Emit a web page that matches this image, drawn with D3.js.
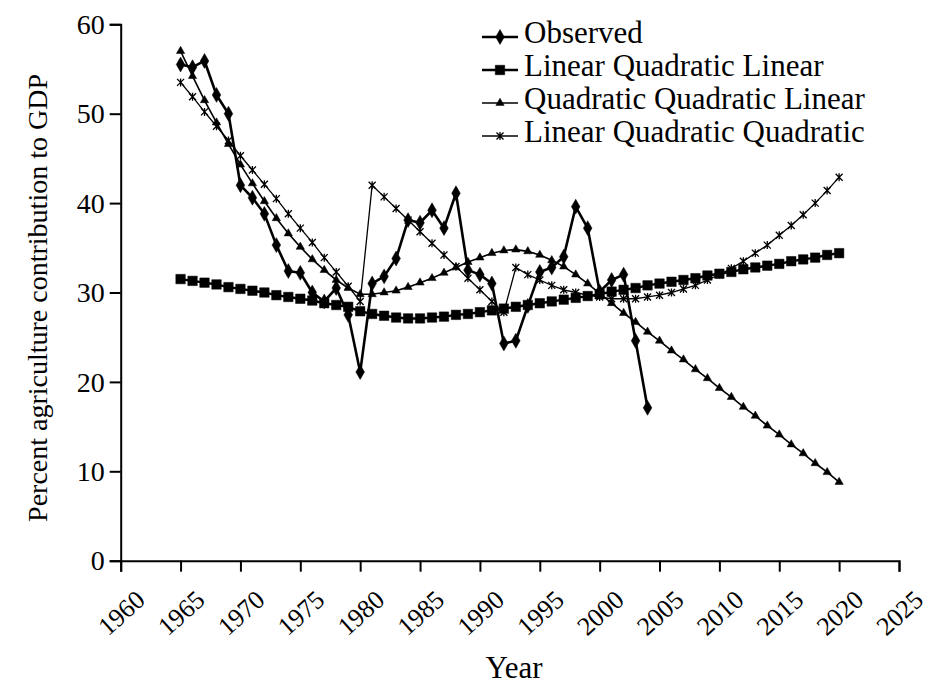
<!DOCTYPE html>
<html>
<head>
<meta charset="utf-8">
<script src="https://cdnjs.cloudflare.com/ajax/libs/d3/7.8.5/d3.min.js"></script>
<style>
  body { margin: 0; background: #fff; }
  svg { display: block; }
  text { font-family: "Liberation Serif", "Times New Roman", serif; fill: #000; }
</style>
</head>
<body>
<svg id="chart" width="929" height="688"></svg>
<script>
// observed share of agriculture in GDP, one value per year
const obsYears = d3.range(1965, 2005)
const observed = [
  55.5, 55.2, 55.9, 52.1, 50.0, 42.0, 40.6, 38.8, 35.3, 32.4,
  32.2, 30.0, 29.0, 30.5, 27.5, 21.1, 31.0, 31.8, 33.8, 38.1,
  37.8, 39.2, 37.2, 41.1, 32.5, 32.0, 31.0, 24.3, 24.6, 28.5,
  32.3, 32.8, 34.0, 39.6, 37.2, 30.1, 31.4, 32.0, 24.6, 17.1
]

// fitted segmented models, 1965-2020
const fitYears = d3.range(1965, 2021)
const linQuadLin = [
  31.5, 31.3, 31.1, 30.9, 30.6, 30.4, 30.2, 30.0, 29.7, 29.5,
  29.3, 29.1, 28.8, 28.6, 28.4,
  27.9, 27.6, 27.4, 27.2, 27.1, 27.1, 27.2, 27.3, 27.5, 27.6,
  27.8, 28.0, 28.2, 28.4, 28.6, 28.8, 29.0, 29.2, 29.4, 29.6, 29.8,
  30.1, 30.3, 30.5, 30.8, 31.0, 31.2, 31.4, 31.6, 31.9, 32.1,
  32.3, 32.6, 32.8, 33.0, 33.2, 33.5, 33.7, 33.9, 34.2, 34.4
]
const quadQuadLin = [
  57.0, 54.2, 51.5, 49.0, 46.6, 44.3, 42.2, 40.2, 38.3, 36.6,
  35.1, 33.7, 32.5, 31.4, 30.5,
  29.8, 29.8, 30.0, 30.2, 30.6, 31.1, 31.6, 32.2, 32.8, 33.4,
  33.9, 34.4, 34.7, 34.8, 34.6, 34.2, 33.6, 32.9, 32.0, 31.0, 29.9,
  28.8, 27.7, 26.7, 25.6, 24.6, 23.5, 22.5, 21.4, 20.4, 19.3,
  18.3, 17.2, 16.2, 15.1, 14.1, 13.0, 12.0, 10.9, 9.9, 8.8
]
const linQuadQuad = [
  53.5, 51.9, 50.2, 48.6, 47.0, 45.3, 43.7, 42.1, 40.5, 38.8,
  37.2, 35.6, 33.9, 32.3, 30.7, 29.0,
  42.0, 40.7, 39.4, 38.1, 36.8, 35.5, 34.2, 32.9, 31.6, 30.3, 29.0, 27.8,
  32.8, 32.0, 31.4, 30.8, 30.3, 30.0, 29.7, 29.5, 29.3, 29.3,
  29.3, 29.5, 29.7, 30.0, 30.4, 30.8, 31.4, 32.0, 32.7, 33.5,
  34.4, 35.3, 36.4, 37.5, 38.7, 40.0, 41.4, 42.9
]

const xTicks = d3.range(1960, 2026, 5)
const yTicks = [0, 10, 20, 30, 40, 50, 60]
const seriesNames = ['Observed', 'Linear Quadratic Linear', 'Quadratic Quadratic Linear', 'Linear Quadratic Quadratic']

const svg = d3.select('#chart')
const x = d3.scaleLinear().domain([1960, 2025]).range([120.7, 899])
const y = d3.scaleLinear().domain([0, 60]).range([560.7, 24.3])

// little marker shapes
const diamond = d3.symbol(d3.symbolDiamond, 64)
const square = d3.symbol(d3.symbolSquare, 90)
const triangle = d3.symbol(d3.symbolTriangle, 30)
const star = () => 'M-3.5,-3.5L3.5,3.5M-3.5,3.5L3.5,-3.5M0,-4L0,4'

const series = [
  { name: seriesNames[0], years: obsYears, values: observed, width: 2.6, mark: diamond, filled: true },
  { name: seriesNames[1], years: fitYears, values: linQuadLin, width: 2.4, mark: square, filled: true },
  { name: seriesNames[2], years: fitYears, values: quadQuadLin, width: 1.6, mark: triangle, filled: true },
  { name: seriesNames[3], years: fitYears, values: linQuadQuad, width: 1.3, mark: star, filled: false }
]

// axes
const xAxis = svg.append('g')
  .attr('transform', `translate(0,${y(0)})`)
  .call(d3.axisBottom(x).tickValues(xTicks).tickFormat(d3.format('d')).tickSize(11))
xAxis.selectAll('path, line').attr('stroke-width', 2)
xAxis.selectAll('text')
  .attr('y', 0).attr('dy', '0.35em')
  .attr('text-anchor', 'middle')
  .attr('transform', 'translate(0,52) rotate(-42)')
  .style('font-size', '26px')

const yAxis = svg.append('g')
  .attr('transform', `translate(${x(1960)},0)`)
  .call(d3.axisLeft(y).tickValues(yTicks).tickSize(11).tickPadding(5))
yAxis.selectAll('path, line').attr('stroke-width', 2)
yAxis.selectAll('text').attr('dy', '0.33em').style('font-size', '28px')

svg.append('text')
  .attr('x', 514).attr('y', 678)
  .attr('text-anchor', 'middle')
  .style('font-size', '31px')
  .text('Year')

svg.append('text')
  .attr('transform', 'translate(47,298) rotate(-90)')
  .attr('text-anchor', 'middle')
  .style('font-size', '28px')
  .text('Percent agriculture contribution to GDP')

// lines + markers
const line = d3.line().x(d => x(d[0])).y(d => y(d[1]))

series.slice().reverse().forEach(s => {
  const pts = s.years.map((yr, i) => [yr, s.values[i]])
  const g = svg.append('g')
  g.append('path')
    .attr('d', line(pts))
    .attr('fill', 'none')
    .attr('stroke', '#000')
    .attr('stroke-width', s.width)
  g.selectAll('path.mk').data(pts).join('path')
    .attr('class', 'mk')
    .attr('transform', d => `translate(${x(d[0])},${y(d[1])})`)
    .attr('d', s.mark)
    .attr('fill', s.filled ? '#000' : 'none')
    .attr('stroke', '#000')
    .attr('stroke-width', s.filled ? 0.5 : 1.3)
})

// legend
const legend = svg.append('g').attr('transform', 'translate(482,37)')
series.forEach((s, i) => {
  const row = legend.append('g').attr('transform', `translate(0,${i * 33})`)
  row.append('line').attr('x1', 0).attr('x2', 36).attr('stroke', '#000').attr('stroke-width', s.width)
  row.append('path')
    .attr('transform', 'translate(18,0)')
    .attr('d', s.mark)
    .attr('fill', s.filled ? '#000' : 'none')
    .attr('stroke', '#000')
    .attr('stroke-width', s.filled ? 0.5 : 1.3)
  row.append('text').attr('x', 42).attr('y', 6).style('font-size', '31px').text(s.name)
})
</script>
</body>
</html>
